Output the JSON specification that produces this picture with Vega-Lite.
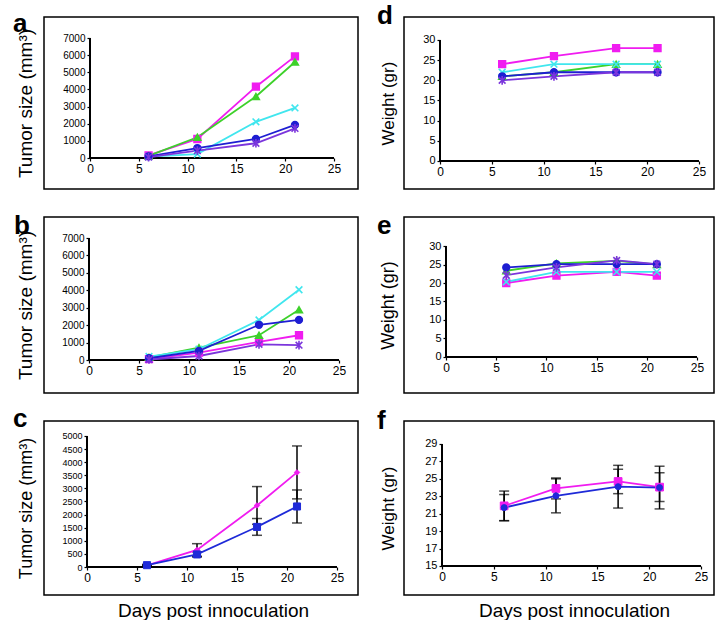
{
  "$schema": "https://vega.github.io/schema/vega-lite/v6.json",
  "background": "white",
  "padding": {"left": 12, "top": 2, "right": 4, "bottom": 2},
  "config": {
    "font": "Liberation Sans",
    "view": {"stroke": "black", "strokeWidth": 1.5},
    "axis": {"domain": false, "grid": false, "ticks": true, "tickColor": "black", "tickSize": 3, "tickWidth": 1.2, "labelColor": "black", "labelFont": "Liberation Sans", "titleFont": "Liberation Sans", "titleFontWeight": "normal", "titleColor": "black", "labelPadding": 2, "labelFlush": false, "labelOverlap": false, "labelBound": false}
  },
  "resolve": {"scale": {"fill": "independent", "stroke": "independent", "shape": "independent", "size": "independent"}},
  "datasets": {
    "pts": [
      {"panel": "a", "series": "Group 1", "day": 6, "value": 150},
      {"panel": "a", "series": "Group 1", "day": 11, "value": 1110},
      {"panel": "a", "series": "Group 1", "day": 17, "value": 4160},
      {"panel": "a", "series": "Group 1", "day": 21, "value": 5930},
      {"panel": "a", "series": "Group 2", "day": 6, "value": 120},
      {"panel": "a", "series": "Group 2", "day": 11, "value": 1210},
      {"panel": "a", "series": "Group 2", "day": 17, "value": 3590},
      {"panel": "a", "series": "Group 2", "day": 21, "value": 5600},
      {"panel": "a", "series": "Group 3", "day": 6, "value": 80},
      {"panel": "a", "series": "Group 3", "day": 11, "value": 230},
      {"panel": "a", "series": "Group 3", "day": 17, "value": 2110},
      {"panel": "a", "series": "Group 3", "day": 21, "value": 2920},
      {"panel": "a", "series": "Group 4", "day": 6, "value": 100},
      {"panel": "a", "series": "Group 4", "day": 11, "value": 580},
      {"panel": "a", "series": "Group 4", "day": 17, "value": 1110},
      {"panel": "a", "series": "Group 4", "day": 21, "value": 1930},
      {"panel": "a", "series": "Group 5", "day": 6, "value": 50},
      {"panel": "a", "series": "Group 5", "day": 11, "value": 430},
      {"panel": "a", "series": "Group 5", "day": 17, "value": 860},
      {"panel": "a", "series": "Group 5", "day": 21, "value": 1730},

      {"panel": "b", "series": "Group 1", "day": 6, "value": 50},
      {"panel": "b", "series": "Group 1", "day": 11, "value": 420},
      {"panel": "b", "series": "Group 1", "day": 17, "value": 1040},
      {"panel": "b", "series": "Group 1", "day": 21, "value": 1420},
      {"panel": "b", "series": "Group 2", "day": 6, "value": 150},
      {"panel": "b", "series": "Group 2", "day": 11, "value": 710},
      {"panel": "b", "series": "Group 2", "day": 17, "value": 1420},
      {"panel": "b", "series": "Group 2", "day": 21, "value": 2880},
      {"panel": "b", "series": "Group 3", "day": 6, "value": 200},
      {"panel": "b", "series": "Group 3", "day": 11, "value": 620},
      {"panel": "b", "series": "Group 3", "day": 17, "value": 2300},
      {"panel": "b", "series": "Group 3", "day": 21, "value": 4030},
      {"panel": "b", "series": "Group 4", "day": 6, "value": 100},
      {"panel": "b", "series": "Group 4", "day": 11, "value": 520},
      {"panel": "b", "series": "Group 4", "day": 17, "value": 2020},
      {"panel": "b", "series": "Group 4", "day": 21, "value": 2300},
      {"panel": "b", "series": "Group 5", "day": 6, "value": 30},
      {"panel": "b", "series": "Group 5", "day": 11, "value": 230},
      {"panel": "b", "series": "Group 5", "day": 17, "value": 900},
      {"panel": "b", "series": "Group 5", "day": 21, "value": 850},

      {"panel": "d", "series": "Group 1", "day": 6, "value": 24},
      {"panel": "d", "series": "Group 1", "day": 11, "value": 26},
      {"panel": "d", "series": "Group 1", "day": 17, "value": 28},
      {"panel": "d", "series": "Group 1", "day": 21, "value": 28},
      {"panel": "d", "series": "Group 2", "day": 6, "value": 21},
      {"panel": "d", "series": "Group 2", "day": 11, "value": 22},
      {"panel": "d", "series": "Group 2", "day": 17, "value": 24},
      {"panel": "d", "series": "Group 2", "day": 21, "value": 24},
      {"panel": "d", "series": "Group 3", "day": 6, "value": 22},
      {"panel": "d", "series": "Group 3", "day": 11, "value": 24},
      {"panel": "d", "series": "Group 3", "day": 17, "value": 24},
      {"panel": "d", "series": "Group 3", "day": 21, "value": 24},
      {"panel": "d", "series": "Group 4", "day": 6, "value": 21},
      {"panel": "d", "series": "Group 4", "day": 11, "value": 22},
      {"panel": "d", "series": "Group 4", "day": 17, "value": 22},
      {"panel": "d", "series": "Group 4", "day": 21, "value": 22},
      {"panel": "d", "series": "Group 5", "day": 6, "value": 20},
      {"panel": "d", "series": "Group 5", "day": 11, "value": 21},
      {"panel": "d", "series": "Group 5", "day": 17, "value": 22},
      {"panel": "d", "series": "Group 5", "day": 21, "value": 22},

      {"panel": "e", "series": "Group 1", "day": 6, "value": 20},
      {"panel": "e", "series": "Group 1", "day": 11, "value": 22},
      {"panel": "e", "series": "Group 1", "day": 17, "value": 23},
      {"panel": "e", "series": "Group 1", "day": 21, "value": 22},
      {"panel": "e", "series": "Group 2", "day": 6, "value": 23.3},
      {"panel": "e", "series": "Group 2", "day": 11, "value": 25.3},
      {"panel": "e", "series": "Group 2", "day": 17, "value": 26},
      {"panel": "e", "series": "Group 2", "day": 21, "value": 25},
      {"panel": "e", "series": "Group 3", "day": 6, "value": 20.3},
      {"panel": "e", "series": "Group 3", "day": 11, "value": 23},
      {"panel": "e", "series": "Group 3", "day": 17, "value": 23},
      {"panel": "e", "series": "Group 3", "day": 21, "value": 23},
      {"panel": "e", "series": "Group 4", "day": 6, "value": 24.2},
      {"panel": "e", "series": "Group 4", "day": 11, "value": 25.1},
      {"panel": "e", "series": "Group 4", "day": 17, "value": 25.1},
      {"panel": "e", "series": "Group 4", "day": 21, "value": 25.1},
      {"panel": "e", "series": "Group 5", "day": 6, "value": 22.1},
      {"panel": "e", "series": "Group 5", "day": 11, "value": 24.2},
      {"panel": "e", "series": "Group 5", "day": 17, "value": 26.1},
      {"panel": "e", "series": "Group 5", "day": 21, "value": 25.1},

      {"panel": "c", "series": "Series 1", "day": 6, "value": 60, "err": 20},
      {"panel": "c", "series": "Series 1", "day": 11, "value": 650, "err": 240},
      {"panel": "c", "series": "Series 1", "day": 17, "value": 2350, "err": 720},
      {"panel": "c", "series": "Series 1", "day": 21, "value": 3610, "err": 1010},
      {"panel": "c", "series": "Series 2", "day": 6, "value": 70, "err": 30},
      {"panel": "c", "series": "Series 2", "day": 11, "value": 480, "err": 100},
      {"panel": "c", "series": "Series 2", "day": 17, "value": 1530, "err": 320},
      {"panel": "c", "series": "Series 2", "day": 21, "value": 2310, "err": 630},

      {"panel": "f", "series": "Series 1", "day": 6, "value": 21.9, "err": 1.7},
      {"panel": "f", "series": "Series 1", "day": 11, "value": 23.9, "err": 1.2},
      {"panel": "f", "series": "Series 1", "day": 17, "value": 24.7, "err": 1.4},
      {"panel": "f", "series": "Series 1", "day": 21, "value": 24.05, "err": 1.65},
      {"panel": "f", "series": "Series 2", "day": 6, "value": 21.7, "err": 1.5},
      {"panel": "f", "series": "Series 2", "day": 11, "value": 23.05, "err": 1.95},
      {"panel": "f", "series": "Series 2", "day": 17, "value": 24.1, "err": 2.45},
      {"panel": "f", "series": "Series 2", "day": 21, "value": 24.0, "err": 2.45}
    ]
  },
  "columns": 2,
  "spacing": {"row": 28, "column": 46},
  "bounds": "flush",
  "concat": [
    {
      "width": 314, "height": 172,
      "title": {"text": "a", "anchor": "start", "frame": "group", "fontSize": 26, "fontWeight": "bold", "baseline": "alphabetic", "offset": 0, "dx": -31, "dy": 41, "color": "black"},
      "data": {"name": "pts"},
      "transform": [{"filter": "datum.panel === 'a'"}],
      "resolve": {"axis": {"x": "independent", "y": "independent"}},
      "layer": [
        {"mark": {"type": "rule", "color": "black", "strokeWidth": 1.3}, "encoding": {"x": {"datum": 0, "type": "quantitative", "axis": null}, "x2": {"datum": 25}, "y": {"datum": 0, "type": "quantitative", "axis": null}}},
        {"mark": {"type": "rule", "color": "black", "strokeWidth": 1.3}, "encoding": {"x": {"datum": 0, "type": "quantitative", "axis": null}, "y": {"datum": 0, "type": "quantitative", "axis": null}, "y2": {"datum": 7000}}},
        {"mark": {"type": "line", "strokeWidth": 1.8},
         "encoding": {
           "x": {"field": "day", "type": "quantitative", "scale": {"domain": [-4.713, 27.459], "nice": false, "zero": false}, "axis": {"orient": "bottom", "values": [0, 5, 10, 15, 20, 25], "offset": -31, "title": null, "labelFontSize": 12}},
           "y": {"field": "value", "type": "quantitative", "scale": {"domain": [-1808, 8225], "nice": false, "zero": false}, "axis": {"orient": "left", "values": [0, 1000, 2000, 3000, 4000, 5000, 6000, 7000], "format": "d", "offset": -46, "title": "Tumor size (mm³)", "titleX": -55, "titleFontSize": 19, "labelFontSize": 10}},
           "stroke": {"field": "series", "type": "nominal", "scale": {"domain": ["Group 1", "Group 2", "Group 3", "Group 4", "Group 5"], "range": ["#f01cf0", "#3dd12a", "#40e6ee", "#1e1ed2", "#7b35dc"]}, "legend": null}
         }},
        {"mark": {"type": "point", "filled": true, "opacity": 1, "strokeWidth": 1.6, "size": 45},
         "encoding": {
           "x": {"field": "day", "type": "quantitative", "axis": null},
           "y": {"field": "value", "type": "quantitative", "axis": null},
           "fill": {"field": "series", "type": "nominal", "scale": {"domain": ["Group 1", "Group 2", "Group 3", "Group 4", "Group 5"], "range": ["#f01cf0", "#3dd12a", "#40e6ee", "#1e1ed2", "#7b35dc"]}, "legend": null},
           "stroke": {"field": "series", "type": "nominal", "legend": null},
           "shape": {"field": "series", "type": "nominal", "scale": {"domain": ["Group 1", "Group 2", "Group 3", "Group 4", "Group 5"], "range": ["square", "triangle-up", "M-1,-1L1,1M-1,1L1,-1", "circle", "M-1,-1L1,1M-1,1L1,-1M0,-1.3L0,1.3"]}, "legend": null}
         }}
      ]
    },
    {
      "width": 310, "height": 172,
      "title": {"text": "d", "anchor": "start", "frame": "group", "fontSize": 26, "fontWeight": "bold", "baseline": "alphabetic", "offset": 0, "dx": -27, "dy": 33, "color": "black"},
      "data": {"name": "pts"},
      "transform": [{"filter": "datum.panel === 'd'"}],
      "resolve": {"axis": {"x": "independent", "y": "independent"}},
      "layer": [
        {"mark": {"type": "rule", "color": "black", "strokeWidth": 1.3}, "encoding": {"x": {"datum": 0, "type": "quantitative", "axis": null}, "x2": {"datum": 25}, "y": {"datum": 0, "type": "quantitative", "axis": null}}},
        {"mark": {"type": "rule", "color": "black", "strokeWidth": 1.3}, "encoding": {"x": {"datum": 0, "type": "quantitative", "axis": null}, "y": {"datum": 0, "type": "quantitative", "axis": null}, "y2": {"datum": 30}}},
        {"mark": {"type": "line", "strokeWidth": 1.8},
         "encoding": {
           "x": {"field": "day", "type": "quantitative", "scale": {"domain": [-3.475, 26.448], "nice": false, "zero": false}, "axis": {"orient": "bottom", "values": [0, 5, 10, 15, 20, 25], "offset": -28, "title": null, "labelFontSize": 12}},
           "y": {"field": "value", "type": "quantitative", "scale": {"domain": [-6.942, 35.70], "nice": false, "zero": false}, "axis": {"orient": "left", "values": [0, 5, 10, 15, 20, 25, 30], "format": "d", "offset": -36, "title": "Weight (gr)", "titleX": -43, "titleFontSize": 17, "labelFontSize": 11}},
           "stroke": {"field": "series", "type": "nominal", "scale": {"domain": ["Group 1", "Group 2", "Group 3", "Group 4", "Group 5"], "range": ["#f01cf0", "#3dd12a", "#40e6ee", "#1e1ed2", "#7b35dc"]}, "legend": null}
         }},
        {"mark": {"type": "point", "filled": true, "opacity": 1, "strokeWidth": 1.6, "size": 45},
         "encoding": {
           "x": {"field": "day", "type": "quantitative", "axis": null},
           "y": {"field": "value", "type": "quantitative", "axis": null},
           "fill": {"field": "series", "type": "nominal", "scale": {"domain": ["Group 1", "Group 2", "Group 3", "Group 4", "Group 5"], "range": ["#f01cf0", "#3dd12a", "#40e6ee", "#1e1ed2", "#7b35dc"]}, "legend": null},
           "stroke": {"field": "series", "type": "nominal", "legend": null},
           "shape": {"field": "series", "type": "nominal", "scale": {"domain": ["Group 1", "Group 2", "Group 3", "Group 4", "Group 5"], "range": ["square", "triangle-up", "M-1,-1L1,1M-1,1L1,-1", "circle", "M-1,-1L1,1M-1,1L1,-1M0,-1.3L0,1.3"]}, "legend": null}
         }}
      ]
    },
    {
      "width": 314, "height": 176,
      "title": {"text": "b", "anchor": "start", "frame": "group", "fontSize": 26, "fontWeight": "bold", "baseline": "alphabetic", "offset": 0, "dx": -30, "dy": 43, "color": "black"},
      "data": {"name": "pts"},
      "transform": [{"filter": "datum.panel === 'b'"}],
      "resolve": {"axis": {"x": "independent", "y": "independent"}},
      "layer": [
        {"mark": {"type": "rule", "color": "black", "strokeWidth": 1.3}, "encoding": {"x": {"datum": 0, "type": "quantitative", "axis": null}, "x2": {"datum": 25}, "y": {"datum": 0, "type": "quantitative", "axis": null}}},
        {"mark": {"type": "rule", "color": "black", "strokeWidth": 1.3}, "encoding": {"x": {"datum": 0, "type": "quantitative", "axis": null}, "y": {"datum": 0, "type": "quantitative", "axis": null}, "y2": {"datum": 7000}}},
        {"mark": {"type": "line", "strokeWidth": 1.8},
         "encoding": {
           "x": {"field": "day", "type": "quantitative", "scale": {"domain": [-4.5, 26.9], "nice": false, "zero": false}, "axis": {"orient": "bottom", "values": [0, 5, 10, 15, 20, 25], "offset": -33, "title": null, "labelFontSize": 12}},
           "y": {"field": "value", "type": "quantitative", "scale": {"domain": [-1893, 8205], "nice": false, "zero": false}, "axis": {"orient": "left", "values": [0, 1000, 2000, 3000, 4000, 5000, 6000, 7000], "format": "d", "offset": -45, "title": "Tumor size (mm³)", "titleX": -54, "titleFontSize": 19, "labelFontSize": 10}},
           "stroke": {"field": "series", "type": "nominal", "scale": {"domain": ["Group 1", "Group 2", "Group 3", "Group 4", "Group 5"], "range": ["#f01cf0", "#3dd12a", "#40e6ee", "#1e1ed2", "#7b35dc"]}, "legend": null}
         }},
        {"mark": {"type": "point", "filled": true, "opacity": 1, "strokeWidth": 1.6, "size": 45},
         "encoding": {
           "x": {"field": "day", "type": "quantitative", "axis": null},
           "y": {"field": "value", "type": "quantitative", "axis": null},
           "fill": {"field": "series", "type": "nominal", "scale": {"domain": ["Group 1", "Group 2", "Group 3", "Group 4", "Group 5"], "range": ["#f01cf0", "#3dd12a", "#40e6ee", "#1e1ed2", "#7b35dc"]}, "legend": null},
           "stroke": {"field": "series", "type": "nominal", "legend": null},
           "shape": {"field": "series", "type": "nominal", "scale": {"domain": ["Group 1", "Group 2", "Group 3", "Group 4", "Group 5"], "range": ["square", "triangle-up", "M-1,-1L1,1M-1,1L1,-1", "circle", "M-1,-1L1,1M-1,1L1,-1M0,-1.3L0,1.3"]}, "legend": null}
         }}
      ]
    },
    {
      "width": 310, "height": 176,
      "title": {"text": "e", "anchor": "start", "frame": "group", "fontSize": 26, "fontWeight": "bold", "baseline": "alphabetic", "offset": 0, "dx": -27, "dy": 43, "color": "black"},
      "data": {"name": "pts"},
      "transform": [{"filter": "datum.panel === 'e'"}],
      "resolve": {"axis": {"x": "independent", "y": "independent"}},
      "layer": [
        {"mark": {"type": "rule", "color": "black", "strokeWidth": 1.3}, "encoding": {"x": {"datum": 0, "type": "quantitative", "axis": null}, "x2": {"datum": 25}, "y": {"datum": 0, "type": "quantitative", "axis": null}}},
        {"mark": {"type": "rule", "color": "black", "strokeWidth": 1.3}, "encoding": {"x": {"datum": 0, "type": "quantitative", "axis": null}, "y": {"datum": 0, "type": "quantitative", "axis": null}, "y2": {"datum": 30}}},
        {"mark": {"type": "line", "strokeWidth": 1.8},
         "encoding": {
           "x": {"field": "day", "type": "quantitative", "scale": {"domain": [-4.183, 26.693], "nice": false, "zero": false}, "axis": {"orient": "bottom", "values": [0, 5, 10, 15, 20, 25], "offset": -36, "title": null, "labelFontSize": 12}},
           "y": {"field": "value", "type": "quantitative", "scale": {"domain": [-9.73, 37.838], "nice": false, "zero": false}, "axis": {"orient": "left", "values": [0, 5, 10, 15, 20, 25, 30], "format": "d", "offset": -42, "title": "Weight (gr)", "titleX": -49, "titleFontSize": 18, "labelFontSize": 11}},
           "stroke": {"field": "series", "type": "nominal", "scale": {"domain": ["Group 1", "Group 2", "Group 3", "Group 4", "Group 5"], "range": ["#f01cf0", "#3dd12a", "#40e6ee", "#1e1ed2", "#7b35dc"]}, "legend": null}
         }},
        {"mark": {"type": "point", "filled": true, "opacity": 1, "strokeWidth": 1.6, "size": 45},
         "encoding": {
           "x": {"field": "day", "type": "quantitative", "axis": null},
           "y": {"field": "value", "type": "quantitative", "axis": null},
           "fill": {"field": "series", "type": "nominal", "scale": {"domain": ["Group 1", "Group 2", "Group 3", "Group 4", "Group 5"], "range": ["#f01cf0", "#3dd12a", "#40e6ee", "#1e1ed2", "#7b35dc"]}, "legend": null},
           "stroke": {"field": "series", "type": "nominal", "legend": null},
           "shape": {"field": "series", "type": "nominal", "scale": {"domain": ["Group 1", "Group 2", "Group 3", "Group 4", "Group 5"], "range": ["square", "triangle-up", "M-1,-1L1,1M-1,1L1,-1", "circle", "M-1,-1L1,1M-1,1L1,-1M0,-1.3L0,1.3"]}, "legend": null}
         }}
      ]
    },
    {
      "width": 314, "height": 174,
      "title": {"text": "c", "anchor": "start", "frame": "group", "fontSize": 26, "fontWeight": "bold", "baseline": "alphabetic", "offset": 0, "dx": -31, "dy": 32, "color": "black"},
      "data": {"name": "pts"},
      "transform": [{"filter": "datum.panel === 'c'"}],
      "resolve": {"axis": {"x": "independent", "y": "independent"}},
      "layer": [
        {"mark": {"type": "rule", "color": "black", "strokeWidth": 1.3}, "encoding": {"x": {"datum": 0, "type": "quantitative", "axis": null}, "x2": {"datum": 25}, "y": {"datum": 0, "type": "quantitative", "axis": null}}},
        {"mark": {"type": "rule", "color": "black", "strokeWidth": 1.3}, "encoding": {"x": {"datum": 0, "type": "quantitative", "axis": null}, "y": {"datum": 0, "type": "quantitative", "axis": null}, "y2": {"datum": 5000}}},
        {"mark": {"type": "errorbar", "ticks": {"size": 10, "thickness": 1.5, "color": "black"}, "color": "black", "thickness": 1.5},
         "encoding": {
           "x": {"field": "day", "type": "quantitative", "axis": null},
           "y": {"field": "value", "type": "quantitative", "axis": null},
           "yError": {"field": "err"}
         }},
        {"mark": {"type": "line", "strokeWidth": 1.8},
         "encoding": {
           "x": {"field": "day", "type": "quantitative", "scale": {"domain": [-4.3, 27.1], "nice": false, "zero": false}, "axis": {"orient": "bottom", "values": [0, 5, 10, 15, 20, 25], "offset": -28, "title": "Days post innoculation", "titleX": 169, "titleY": 34, "titleFontSize": 19, "labelFontSize": 12}},
           "y": {"field": "value", "type": "quantitative", "scale": {"domain": [-1068.7, 5572.5], "nice": false, "zero": false}, "axis": {"orient": "left", "values": [0, 500, 1000, 1500, 2000, 2500, 3000, 3500, 4000, 4500, 5000], "format": "d", "offset": -43, "title": "Tumor size (mm³)", "titleX": -52, "titleFontSize": 18, "labelFontSize": 9}},
           "stroke": {"field": "series", "type": "nominal", "scale": {"domain": ["Series 1", "Series 2"], "range": ["#f01cf0", "#1e2ad8"]}, "legend": null}
         }},
        {"mark": {"type": "point", "filled": true, "opacity": 1, "strokeWidth": 1},
         "encoding": {
           "x": {"field": "day", "type": "quantitative", "axis": null},
           "y": {"field": "value", "type": "quantitative", "axis": null},
           "fill": {"field": "series", "type": "nominal", "scale": {"domain": ["Series 1", "Series 2"], "range": ["#f01cf0", "#1e2ad8"]}, "legend": null},
           "stroke": {"field": "series", "type": "nominal", "legend": null},
           "shape": {"field": "series", "type": "nominal", "scale": {"domain": ["Series 1", "Series 2"], "range": ["diamond", "square"]}, "legend": null},
           "size": {"field": "series", "type": "nominal", "scale": {"domain": ["Series 1", "Series 2"], "range": [30, 50]}, "legend": null}
         }}
      ]
    },
    {
      "width": 310, "height": 174,
      "title": {"text": "f", "anchor": "start", "frame": "group", "fontSize": 26, "fontWeight": "bold", "baseline": "alphabetic", "offset": 0, "dx": -27, "dy": 34, "color": "black"},
      "data": {"name": "pts"},
      "transform": [{"filter": "datum.panel === 'f'"}],
      "resolve": {"axis": {"x": "independent", "y": "independent"}},
      "layer": [
        {"mark": {"type": "rule", "color": "black", "strokeWidth": 1.3}, "encoding": {"x": {"datum": 0, "type": "quantitative", "axis": null}, "x2": {"datum": 25}, "y": {"datum": 15, "type": "quantitative", "axis": null}}},
        {"mark": {"type": "rule", "color": "black", "strokeWidth": 1.3}, "encoding": {"x": {"datum": 0, "type": "quantitative", "axis": null}, "y": {"datum": 15, "type": "quantitative", "axis": null}, "y2": {"datum": 29}}},
        {"mark": {"type": "errorbar", "ticks": {"size": 10, "thickness": 1.5, "color": "black"}, "color": "black", "thickness": 1.5},
         "encoding": {
           "x": {"field": "day", "type": "quantitative", "axis": null},
           "y": {"field": "value", "type": "quantitative", "axis": null},
           "yError": {"field": "err"}
         }},
        {"mark": {"type": "line", "strokeWidth": 1.8},
         "encoding": {
           "x": {"field": "day", "type": "quantitative", "scale": {"domain": [-3.668, 26.255], "nice": false, "zero": false}, "axis": {"orient": "bottom", "values": [0, 5, 10, 15, 20, 25], "offset": -29, "title": "Days post innoculation", "titleX": 170, "titleY": 35, "titleFontSize": 19, "labelFontSize": 12}},
           "y": {"field": "value", "type": "quantitative", "scale": {"domain": [11.672, 31.639], "nice": false, "zero": false}, "axis": {"orient": "left", "values": [15, 17, 19, 21, 23, 25, 27, 29], "format": "d", "offset": -38, "title": "Weight (gr)", "titleX": -45, "titleFontSize": 17, "labelFontSize": 11}},
           "stroke": {"field": "series", "type": "nominal", "scale": {"domain": ["Series 1", "Series 2"], "range": ["#f01cf0", "#1e2ad8"]}, "legend": null}
         }},
        {"mark": {"type": "point", "filled": true, "opacity": 1, "strokeWidth": 1},
         "encoding": {
           "x": {"field": "day", "type": "quantitative", "axis": null},
           "y": {"field": "value", "type": "quantitative", "axis": null},
           "fill": {"field": "series", "type": "nominal", "scale": {"domain": ["Series 1", "Series 2"], "range": ["#f01cf0", "#1e2ad8"]}, "legend": null},
           "stroke": {"field": "series", "type": "nominal", "legend": null},
           "shape": {"field": "series", "type": "nominal", "scale": {"domain": ["Series 1", "Series 2"], "range": ["square", "circle"]}, "legend": null},
           "size": {"field": "series", "type": "nominal", "scale": {"domain": ["Series 1", "Series 2"], "range": [60, 36]}, "legend": null}
         }}
      ]
    }
  ]
}
